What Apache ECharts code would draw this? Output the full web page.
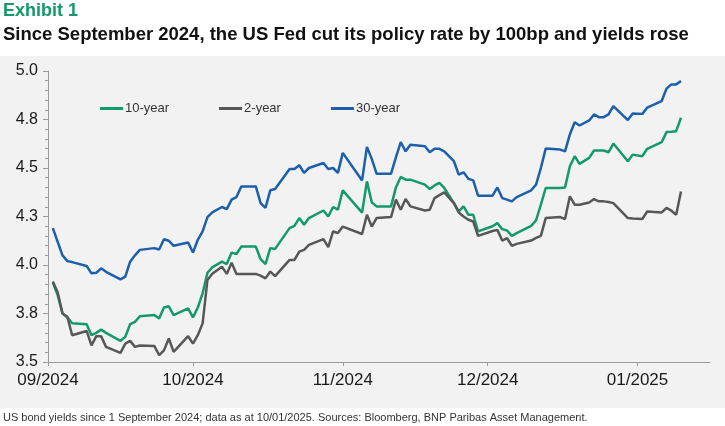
<!DOCTYPE html>
<html>
<head>
<meta charset="utf-8">
<script src="https://cdn.jsdelivr.net/npm/echarts@6.0.0/dist/echarts.min.js"></script>
<style>
html, body { margin: 0; padding: 0; background: #fff; }
#chart {
    width: 725px;
    height: 426px;
    background: linear-gradient(to bottom, #fff 0px, #fff 56px, #f2f2f2 56px, #f2f2f2 408px, #fff 408px);
}
</style>
</head>
<body>
<div id="chart"></div>
<script>
// trading dates
var dates = [
    '2024-09-02', '2024-09-03', '2024-09-04', '2024-09-05', '2024-09-06', '2024-09-09', '2024-09-10',
    '2024-09-11', '2024-09-12', '2024-09-13', '2024-09-16', '2024-09-17', '2024-09-18', '2024-09-19',
    '2024-09-20', '2024-09-23', '2024-09-24', '2024-09-25', '2024-09-26', '2024-09-27', '2024-09-30',
    '2024-10-01', '2024-10-02', '2024-10-03', '2024-10-04', '2024-10-05', '2024-10-07', '2024-10-08',
    '2024-10-09', '2024-10-10', '2024-10-11', '2024-10-14', '2024-10-15', '2024-10-16', '2024-10-17',
    '2024-10-18', '2024-10-21', '2024-10-22', '2024-10-23', '2024-10-24', '2024-10-25', '2024-10-28',
    '2024-10-29', '2024-10-30', '2024-10-31',
    '2024-11-01', '2024-11-05', '2024-11-06', '2024-11-07', '2024-11-08', '2024-11-11', '2024-11-12',
    '2024-11-13', '2024-11-14', '2024-11-15', '2024-11-18', '2024-11-19', '2024-11-20', '2024-11-21',
    '2024-11-22', '2024-11-24', '2024-11-25', '2024-11-26', '2024-11-27', '2024-11-28', '2024-11-29',
    '2024-12-02', '2024-12-03', '2024-12-04', '2024-12-05', '2024-12-06', '2024-12-07', '2024-12-10',
    '2024-12-11', '2024-12-12', '2024-12-13', '2024-12-16', '2024-12-17', '2024-12-18', '2024-12-19',
    '2024-12-20', '2024-12-22', '2024-12-23', '2024-12-24', '2024-12-25', '2024-12-26', '2024-12-27',
    '2024-12-30', '2024-12-31',
    '2025-01-02', '2025-01-03', '2025-01-06', '2025-01-07', '2025-01-08', '2025-01-09', '2025-01-10'
];

var tenYear = [
    3.91, 3.845, 3.75, 3.73, 3.70, 3.695, 3.638, 3.65, 3.667, 3.65, 3.609, 3.63, 3.695, 3.707,
    3.736, 3.742, 3.724, 3.781, 3.787, 3.742, 3.776,
    3.73, 3.781, 3.854, 3.96, 3.988, 4.017, 4.005, 4.064, 4.057, 4.095, 4.095, 4.03, 4.005, 4.087,
    4.083, 4.19, 4.202, 4.242, 4.207, 4.242, 4.281, 4.25, 4.299, 4.285,
    4.385, 4.27, 4.431, 4.323, 4.302, 4.302, 4.40, 4.454, 4.44, 4.44, 4.414, 4.392, 4.41, 4.423,
    4.397, 4.319, 4.276, 4.302, 4.259, 4.259, 4.173,
    4.20, 4.216, 4.185, 4.178, 4.15, 4.164, 4.202, 4.23, 4.311, 4.397, 4.397, 4.40, 4.509, 4.561,
    4.521, 4.552, 4.59, 4.59, 4.59, 4.581, 4.626, 4.535, 4.569,
    4.561, 4.599, 4.633, 4.685, 4.687, 4.69, 4.759
];

var twoYear = [
    3.915, 3.86, 3.75, 3.733, 3.638, 3.66, 3.586, 3.633, 3.633, 3.578, 3.547, 3.595, 3.609, 3.578,
    3.585, 3.583, 3.535, 3.56, 3.621, 3.552, 3.633,
    3.595, 3.638, 3.699, 3.923, 3.955, 3.991, 3.954, 4.012, 3.954, 3.954, 3.954, 3.945, 3.931, 3.966,
    3.943, 4.026, 4.026, 4.069, 4.078, 4.104, 4.133, 4.092, 4.173, 4.165,
    4.198, 4.16, 4.259, 4.198, 4.242, 4.247, 4.337, 4.285, 4.34, 4.302, 4.281, 4.285, 4.345, 4.36,
    4.374, 4.319, 4.271, 4.25, 4.233, 4.224, 4.15,
    4.175, 4.181, 4.126, 4.138, 4.099, 4.109, 4.126, 4.14, 4.15, 4.242, 4.247, 4.237, 4.354, 4.311,
    4.311, 4.322, 4.34, 4.328, 4.328, 4.325, 4.319, 4.242, 4.24,
    4.237, 4.276, 4.271, 4.294, 4.28, 4.259, 4.379
];

var thirtyYear = [
    4.19, 4.12, 4.05, 4.02, 4.015, 3.995, 3.957, 3.96, 3.983, 3.965, 3.926, 3.94, 4.017, 4.05,
    4.078, 4.087, 4.08, 4.133, 4.125, 4.099, 4.116,
    4.064, 4.13, 4.173, 4.247, 4.271, 4.299, 4.288, 4.337, 4.35, 4.405, 4.405, 4.319, 4.294, 4.385,
    4.392, 4.495, 4.495, 4.514, 4.475, 4.50, 4.526, 4.495, 4.50, 4.475,
    4.578, 4.436, 4.609, 4.547, 4.471, 4.471, 4.555, 4.633, 4.586, 4.62, 4.612, 4.581, 4.599, 4.599,
    4.586, 4.535, 4.466, 4.478, 4.444, 4.436, 4.357,
    4.357, 4.40, 4.345, 4.337, 4.328, 4.35, 4.385, 4.414, 4.50, 4.60, 4.595, 4.586, 4.673, 4.736,
    4.719, 4.745, 4.776, 4.762, 4.762, 4.776, 4.819, 4.747, 4.781,
    4.779, 4.811, 4.845, 4.909, 4.931, 4.931, 4.949
];

var seriesNames = ['10-year', '2-year', '30-year'];
var seriesColors = ['#14996a', '#575757', '#1c5faa'];

function pairUp(values) {
    return dates.map(function (d, i) {
        return [d, values[i]];
    });
}

function pad(n) {
    return n < 10 ? '0' + n : '' + n;
}

var font = "'Liberation Sans', Arial, sans-serif";

var myChart = echarts.init(document.getElementById('chart'));

var option = {
    animation: false,
    backgroundColor: 'transparent',
    title: [{
        text: 'Exhibit 1',
        left: 3,
        top: 2,
        padding: 0,
        textStyle: { fontFamily: font, fontWeight: 'bold', fontSize: 18, color: '#14996a' }
    }, {
        text: 'Since September 2024, the US Fed cut its policy rate by 100bp and yields rose',
        left: 3,
        top: 25,
        padding: 0,
        textStyle: { fontFamily: font, fontWeight: 'bold', fontSize: 18.5, color: '#111' }
    }, {
        text: 'US bond yields since 1 September 2024; data as at 10/01/2025. Sources: Bloomberg, BNP Paribas Asset Management.',
        left: 3,
        top: 412,
        padding: 0,
        textStyle: { fontFamily: font, fontWeight: 'normal', fontSize: 11, color: '#333' }
    }],
    legend: {
        left: 100,
        top: 102,
        padding: 0,
        icon: 'rect',
        itemWidth: 23,
        itemHeight: 3,
        itemGap: 50,
        data: seriesNames,
        textStyle: { fontFamily: font, fontSize: 13, color: '#333', padding: [0, 0, 0, -3] }
    },
    grid: {
        left: 48,
        right: 15,
        top: 71,
        bottom: 64
    },
    xAxis: {
        type: 'time',
        min: '2024-09-01',
        max: '2025-01-16',
        splitNumber: 5,
        axisLine: { lineStyle: { color: '#9a9a9a', width: 1 } },
        axisTick: { show: true, length: 4, lineStyle: { color: '#9a9a9a' } },
        splitLine: { show: false },
        axisLabel: {
            fontFamily: font,
            fontSize: 17,
            color: '#1a1a1a',
            margin: 10,
            formatter: function (val) {
                var d = new Date(val);
                return pad(d.getMonth() + 1) + '/' + d.getFullYear();
            }
        }
    },
    yAxis: {
        type: 'value',
        min: 3.5,
        max: 5.0,
        interval: 0.25,
        axisLine: { show: true, lineStyle: { color: '#9a9a9a', width: 1 } },
        axisTick: { show: true, length: 5, lineStyle: { color: '#9a9a9a' } },
        minorTick: { show: true, splitNumber: 5, length: 3, lineStyle: { color: '#9a9a9a' } },
        splitLine: { show: false },
        axisLabel: {
            fontFamily: font,
            fontSize: 16,
            color: '#1a1a1a',
            margin: 10,
            formatter: function (v) {
                return v.toFixed(1);
            }
        }
    },
    series: [
        { name: seriesNames[0], type: 'line', data: pairUp(tenYear), showSymbol: false, color: seriesColors[0], lineStyle: { width: 2.5 } },
        { name: seriesNames[1], type: 'line', data: pairUp(twoYear), showSymbol: false, color: seriesColors[1], lineStyle: { width: 2.5 } },
        { name: seriesNames[2], type: 'line', data: pairUp(thirtyYear), showSymbol: false, color: seriesColors[2], lineStyle: { width: 2.5 } }
    ]
};
myChart.setOption(option);
</script>
</body>
</html>
